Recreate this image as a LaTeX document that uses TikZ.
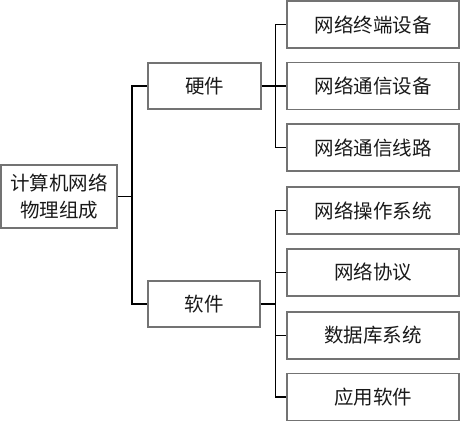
\documentclass[tikz,border=0pt]{standalone}
\usepackage{fontspec}
\setmainfont{Noto Sans CJK SC}
\begin{document}
\begin{tikzpicture}[x=1pt,y=-1pt,
  box/.style={draw=black!55,line width=1.1pt,rectangle,inner sep=0pt,
    font=\fontsize{19.5}{27}\selectfont,align=center,text=black!90},
  link/.style={draw=black,line width=1.6pt}]
\useasboundingbox (0,0) rectangle (461,424);
\node[box,minimum width=116pt,minimum height=63pt] (root) at (59,196.5) {计算机网络\\物理组成};
\node[box,minimum width=113pt,minimum height=46pt] (hw) at (204.5,86) {硬件};
\node[box,minimum width=112pt,minimum height=46pt] (sw) at (204,304) {软件};
\node[box,minimum width=172pt,minimum height=47pt] (h1) at (373,24.5) {网络终端设备};
\node[box,minimum width=172pt,minimum height=47pt] (h2) at (373,86) {网络通信设备};
\node[box,minimum width=172pt,minimum height=47pt] (h3) at (373,147.5) {网络通信线路};
\node[box,minimum width=172pt,minimum height=47pt] (s1) at (373,210.5) {网络操作系统};
\node[box,minimum width=172pt,minimum height=47pt] (s2) at (373,272.5) {网络协议};
\node[box,minimum width=172pt,minimum height=47pt] (s3) at (373,335.5) {数据库系统};
\node[box,minimum width=172pt,minimum height=47pt] (s4) at (373,397) {应用软件};
\coordinate (trunk) at (132,196.5);
\coordinate (hbus) at (275.5,86);
\coordinate (sbus) at (275.5,304);
\draw[link] (root.east) -- (trunk);
\draw[link] (trunk) |- (hw.west);
\draw[link] (trunk) |- (sw.west);
\draw[link] (hw.east) -- (hbus);
\draw[link] (hbus) |- (h1.west);
\draw[link] (hbus) -- (h2.west);
\draw[link] (hbus) |- (h3.west);
\draw[link] (sw.east) -- (sbus);
\draw[link] (sbus) |- (s1.west);
\draw[link] (sbus) |- (s2.west);
\draw[link] (sbus) |- (s3.west);
\draw[link] (sbus) |- (s4.west);
\end{tikzpicture}
\end{document}
